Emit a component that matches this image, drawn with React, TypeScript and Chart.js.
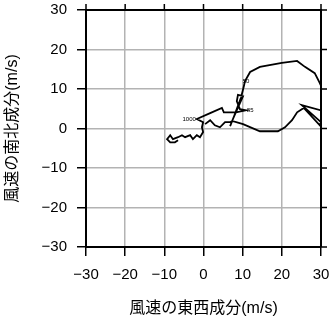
import React, { useEffect, useRef } from 'react';
import { Chart, registerables } from 'chart.js';

Chart.register(...registerables);

// Hodograph: east-west (u) and north-south (v) wind components, m/s
const uWind = [
  -6.5, -7.3, -8.5, -9.3, -8.5, -7.8, -6.5, -5.5, -4.7, -3.4,
  -2.7, -1.7, -0.9, -0.1, -0.4, -0.1, -1.7, 1.7, 4.7, 5.2,
  8.3, 10.8, 9.3, 8.5, 8.8, 10.1, 9.3, 7.3, 6.8, 7.8,
  9.6, 10.3, 10.6, 11.9, 14.4, 20.0, 23.9, 25.9, 28.4, 29.7,
  30.7, 31.3, 30.0, 25.1, 30.0, 29.7, 25.6, 23.9, 22.6, 20.8,
  19.0, 14.4, 10.1, 7.3, 6.8, 5.5, 4.2, 2.9, 1.7, 0.4,
];
const vWind = [
  -3.0, -3.5, -3.5, -2.7, -1.7, -2.7, -2.2, -1.7, -2.2, -1.7,
  -2.7, -1.7, -2.2, -0.9, 0.3, 1.6, 2.4, 3.9, 5.2, 4.1,
  4.1, 4.6, 4.9, 6.9, 8.5, 8.2, 6.4, 1.9, 0.6, 3.1,
  7.9, 10.7, 12.0, 14.3, 15.6, 16.6, 17.1, 15.6, 14.0, 11.5,
  9.2, 6.2, 4.6, 5.9, 1.6, 0.8, 5.2, 4.1, 2.1, 0.3,
  -0.7, -0.7, 1.1, 1.9, 1.6, 1.6, 0.3, 0.8, 2.1, 1.1,
];
const levelNames = ['1000', '85', '50'];
const levelIndex = [16, 21, 32];
const tickValues = [-30, -20, -10, 0, 10, 20, 30];
const xTitle = '風速の東西成分(m/s)';
const yTitle = '風速の南北成分(m/s)';

const levelAlign: CanvasTextAlign[] = ['right', 'left', 'center'];
const levelDx = [-1, 1, 1];

const fmt = (v: number) => (v < 0 ? '\u2212' + Math.abs(v) : String(v));

const framePlugin = {
  id: 'frameAndLabels',
  afterDatasetsDraw(chart: any) {
    const ctx = chart.ctx;
    const xs = chart.scales.x;
    const ys = chart.scales.y;
    ctx.save();
    ctx.fillStyle = '#000';
    ctx.font = '6px "Liberation Sans"';
    ctx.textBaseline = 'middle';
    levelNames.forEach((name, k) => {
      const i = levelIndex[k];
      const px = xs.getPixelForValue(uWind[i]);
      const py = ys.getPixelForValue(vWind[i]);
      ctx.textAlign = levelAlign[k];
      ctx.fillText(name, px + levelDx[k], py);
    });
    ctx.restore();
  },
  afterDraw(chart: any) {
    const ctx = chart.ctx;
    const a = chart.chartArea;
    const xs = chart.scales.x;
    const ys = chart.scales.y;
    ctx.save();
    ctx.strokeStyle = '#000';
    ctx.lineWidth = 2;
    ctx.beginPath();
    ctx.moveTo(a.left, a.top);
    ctx.lineTo(a.right, a.top);
    ctx.lineTo(a.right, a.bottom);
    ctx.stroke();
    ctx.lineWidth = 1.5;
    ctx.beginPath();
    tickValues.forEach((t) => {
      const py = ys.getPixelForValue(t);
      ctx.moveTo(a.right, py);
      ctx.lineTo(a.right + 6, py);
      const px = xs.getPixelForValue(t);
      ctx.moveTo(px, a.top);
      ctx.lineTo(px, a.top - 6);
    });
    ctx.stroke();
    ctx.restore();
  },
};

export default function App() {
  const ref = useRef<HTMLCanvasElement | null>(null);
  useEffect(() => {
    if (!ref.current) return;
    const points = uWind.map((u, i) => ({ x: u, y: vWind[i] }));
    const tickFont = { family: '"Liberation Sans", Arial, sans-serif', size: 15 };
    const titleFont = { family: '"Liberation Sans", "Noto Sans CJK JP", sans-serif', size: 16 };
    const common = (titleText: string, titlePad: any, fitKey: 'width' | 'height', fitVal: number) => ({
      type: 'linear',
      min: -30,
      max: 30,
      afterBuildTicks: (s: any) => {
        s.ticks = tickValues.map((v) => ({ value: v }));
      },
      afterFit: (s: any) => {
        s[fitKey] = fitVal;
        s.paddingTop = 0;
        s.paddingBottom = 0;
        s.paddingLeft = 0;
        s.paddingRight = 0;
      },
      grid: {
        color: '#b3b3b3',
        lineWidth: 1.5,
        drawTicks: true,
        tickLength: 9,
        tickColor: '#000',
        tickWidth: 1.5,
      },
      border: { display: true, color: '#000', width: 2 },
      ticks: {
        color: '#000',
        font: tickFont,
        padding: 10,
        autoSkip: false,
        maxRotation: 0,
        callback: (v: any) => fmt(Number(v)),
      },
      title: {
        display: true,
        text: titleText,
        color: '#000',
        font: titleFont,
        padding: titlePad,
      },
    });
    const chart = new Chart(ref.current, {
      type: 'scatter',
      data: {
        datasets: [
          {
            data: points,
            showLine: true,
            borderColor: '#000',
            borderWidth: 1.8,
            pointRadius: 0,
            tension: 0,
            clip: 0,
          } as any,
        ],
      },
      options: {
        responsive: false,
        animation: false,
        layout: { padding: { top: 10, right: 11, left: 0, bottom: 0 } },
        plugins: { legend: { display: false }, tooltip: { enabled: false } },
        scales: {
          x: common(xTitle, { top: 0, bottom: 1 }, 'height', 72) as any,
          y: common(yTitle, { top: 3, bottom: 0 }, 'width', 86) as any,
        },
      },
      plugins: [framePlugin],
    });
    return () => chart.destroy();
  }, []);
  return (
    <div style={{ position: 'absolute', left: 0, top: 0, width: 332, height: 319, background: '#fff' }}>
      <canvas ref={ref} width={332} height={319} style={{ display: 'block' }} />
    </div>
  );
}
